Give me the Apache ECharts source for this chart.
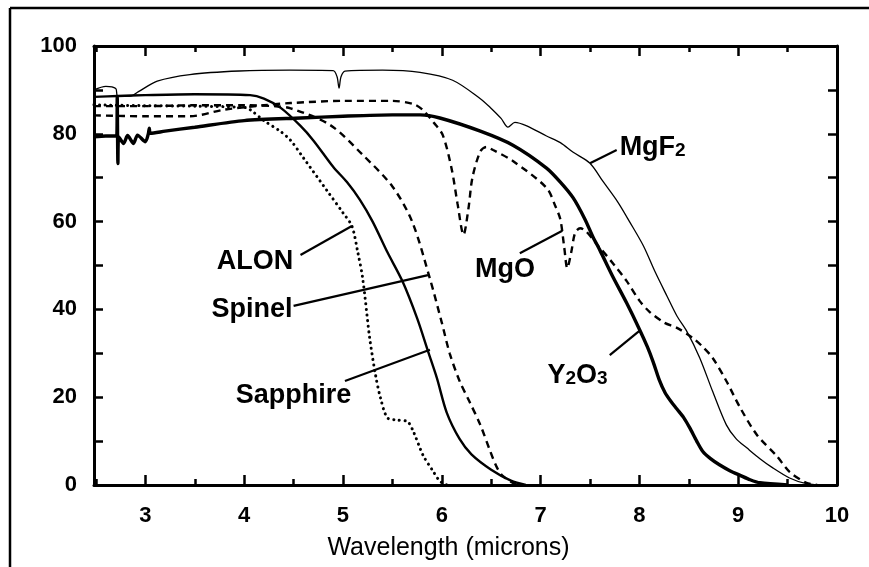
<!DOCTYPE html>
<html><head><meta charset="utf-8">
<script src="https://cdn.jsdelivr.net/npm/echarts@6/dist/echarts.min.js"></script>
<style>html,body{margin:0;padding:0;background:#fff;overflow:hidden}#c{width:869px;height:567px}</style>
</head><body><div id="c"></div>
<script>
// ---- axis ticks / labels ----
const xTicks = [3, 4, 5, 6, 7, 8, 9, 10];
const xHalfTicks = [2.5, 3.5, 4.5, 5.5, 6.5, 7.5, 8.5, 9.5];
const yLabels = [0, 20, 40, 60, 80, 100];
const yTicks = [0, 10, 20, 30, 40, 50, 60, 70, 80, 90, 100];
const xTitle = 'Wavelength (microns)';

// ---- series values [wavelength (microns), transmission (%)] ----
const MgF2 = [[2.48,90],[2.6,90.8],[2.7,90.3],[2.72,88.6],[2.85,88.6],[2.93,89.6],[3.12,92],[3.45,93.5],[3.95,94.3],[4.46,94.5],[4.9,94.4],[4.94,93],[4.96,90.4],[4.98,93],[5.02,94.3],[5.4,94.5],[5.78,94],[6.11,92.2],[6.39,88],[6.49,86],[6.6,83.5],[6.67,81.5],[6.74,82.6],[6.86,81.8],[7.06,79.5],[7.2,78],[7.33,75.8],[7.5,73.3],[7.63,69.2],[7.78,64.5],[7.9,60],[8.04,54.5],[8.16,48.5],[8.28,43],[8.38,38.5],[8.48,35],[8.61,29],[8.74,21.4],[8.88,13.7],[8.98,10.5],[9.09,8.4],[9.22,6],[9.35,3.9],[9.52,1.6],[9.69,0.3],[9.9,0]];
const Y2O3 = [[2.48,79.3],[2.6,79.5],[2.71,79.5],[2.715,88.5],[2.722,73.2],[2.73,79.3],[2.78,77.8],[2.82,79.6],[2.88,77.8],[2.92,79.7],[3.0,78.2],[3.03,80],[3.04,81.3],[3.05,80.1],[3.2,80.6],[3.5,81.5],[4.0,83],[4.57,83.6],[5.0,84],[5.5,84.3],[5.78,84.3],[5.98,83.6],[6.39,80.6],[6.72,77.4],[7.06,72.2],[7.2,69],[7.33,65.4],[7.45,60.5],[7.53,56.5],[7.6,53.5],[7.73,47.5],[7.87,41.5],[8.0,35.5],[8.08,31.5],[8.14,28],[8.2,24],[8.26,21],[8.32,19],[8.38,17.3],[8.45,15.3],[8.51,13],[8.58,10],[8.64,7.7],[8.72,6],[8.81,4.6],[8.92,3.2],[9.02,2.2],[9.12,1.2],[9.22,0.5],[9.5,0]];
const Sapphire = [[2.48,88.4],[2.72,88.6],[3.0,88.8],[3.5,89],[4.06,88.8],[4.2,88],[4.37,85.9],[4.57,81.8],[4.7,78.5],[4.9,72.5],[5.04,69],[5.17,65],[5.3,60],[5.45,53],[5.6,46.5],[5.75,38],[5.86,30.5],[5.95,24.4],[6.05,16.5],[6.18,10.5],[6.3,7],[6.5,3.5],[6.7,1],[6.85,0]];
const Spinel = [[2.48,86.3],[3.0,86.3],[3.5,86.5],[4.0,86.5],[4.3,86.3],[4.47,85.8],[4.87,82],[5.2,75.2],[5.5,68],[5.7,60],[5.88,47],[6.0,37],[6.08,30],[6.18,23.7],[6.28,19],[6.39,13.7],[6.49,7.7],[6.56,3.9],[6.62,2],[6.72,0.5],[6.8,0]];
const ALON = [[2.48,86.6],[3.0,86.4],[3.5,86.3],[4.0,86],[4.06,85.5],[4.2,83],[4.37,80.5],[4.47,78.5],[4.6,74.5],[4.84,67],[5.0,62],[5.09,59],[5.15,53],[5.2,47],[5.27,33.5],[5.33,25],[5.38,19.8],[5.45,15.3],[5.55,14.8],[5.65,14.5],[5.71,12.3],[5.81,6.8],[5.91,3.2],[5.98,0.9],[6.05,0]];
const MgO = [[2.48,84.2],[3.0,84],[3.45,84],[3.8,85.5],[4.2,86.5],[4.47,87],[5.0,87.5],[5.5,87.5],[5.71,86.8],[5.81,85.4],[5.92,82.5],[6.01,79.7],[6.1,72],[6.16,64],[6.22,57],[6.27,63],[6.31,70],[6.39,76],[6.45,77],[6.52,76.3],[6.72,73.8],[7.06,67.7],[7.15,63.5],[7.2,60.5],[7.24,54],[7.27,49.4],[7.31,53],[7.35,57.5],[7.4,58.5],[7.6,54],[7.75,50],[7.87,46.5],[8.0,42],[8.1,39.5],[8.25,37],[8.38,35.8],[8.54,33.5],[8.64,31.5],[8.74,29],[8.88,23.7],[9.02,17.6],[9.19,11.4],[9.39,6.6],[9.52,3],[9.69,0.5],[9.8,0]];

// ---- annotations (data coordinates) ----
const annotations = [
  {name: 'ALON', text: 'ALON', at: [4.11, 51], anchor: 'center', pointer: [[4.57, 52.4], [5.09, 59]]},
  {name: 'Spinel', text: 'Spinel', at: [4.08, 40], anchor: 'center', pointer: [[4.5, 40.8], [5.86, 47.8]]},
  {name: 'Sapphire', text: 'Sapphire', at: [4.5, 20.3], anchor: 'center', pointer: [[5.02, 23.7], [5.88, 30.8]]},
  {name: 'MgO', text: 'MgO', at: [6.64, 49], anchor: 'center', pointer: [[6.79, 52.8], [7.22, 57.9]]},
  {name: 'MgF2', text: '{n|MgF}{s|2}', at: [7.8, 77], anchor: 'left', pointer: [[7.5, 73.3], [7.77, 76.3]]},
  {name: 'Y2O3', text: '{n|Y}{s|2}{n|O}{s|3}', at: [7.07, 25], anchor: 'left', pointer: [[7.7, 29.6], [8.0, 35.1]]}
];

const INK = '#000';
const FONT = '"Liberation Sans", Arial, Helvetica, sans-serif';
const X_MIN = 2.48, X_MAX = 10;

const chart = echarts.init(document.getElementById('c'), null, {renderer: 'canvas'});

const gridRect = {left: 94, right: 32, top: 46, bottom: 82};

function curve(name, data, style, smooth) {
  return {name, type: 'line', data, xAxisIndex: 0, yAxisIndex: 0, showSymbol: false, symbol: 'none',
    smooth: smooth, silent: true, animation: false,
    lineStyle: Object.assign({color: INK, opacity: 1}, style), z: 3};
}

const series = [
  curve('MgF2', MgF2, {width: 1.3}, 0.3),
  curve('MgO', MgO, {width: 2.4, type: [7, 5]}, 0.3),
  curve('Spinel', Spinel, {width: 2.4, type: [7, 5]}, 0.3),
  curve('ALON', ALON, {width: 3, type: [0.1, 5.5], cap: 'round'}, 0.3),
  curve('Sapphire', Sapphire, {width: 2.4}, 0.3),
  curve('Y2O3', Y2O3, {width: 3.4}, 0.25)
];

annotations.forEach(a => {
  series.push({name: a.name + ' pointer', type: 'line', data: a.pointer, xAxisIndex: 0, yAxisIndex: 0,
    symbol: 'none', silent: true, animation: false, lineStyle: {color: INK, width: 2.2}, z: 4});
  series.push({name: a.name + ' label', type: 'scatter', data: [a.at], xAxisIndex: 0, yAxisIndex: 0,
    symbolSize: 0, silent: true, animation: false, z: 5, itemStyle: {opacity: 1},
    label: {show: true, position: a.anchor === 'left' ? 'right' : 'inside', distance: 0, opacity: 1,
      formatter: () => a.text, color: INK, fontFamily: FONT, fontWeight: 'bold', fontSize: 27, textBorderWidth: 0,
      rich: {
        n: {fontFamily: FONT, fontWeight: 'bold', fontSize: 27, color: INK, lineHeight: 26, verticalAlign: 'top'},
        s: {fontFamily: FONT, fontWeight: 'bold', fontSize: 19, color: INK, lineHeight: 8, verticalAlign: 'bottom'}
      }}
  });
});

const option = {
  backgroundColor: '#fff',
  animation: false,
  grid: [Object.assign({}, gridRect), Object.assign({}, gridRect)],
  xAxis: [
    {gridIndex: 0, type: 'value', position: 'bottom', min: X_MIN, max: X_MAX,
      name: xTitle, nameLocation: 'middle', nameGap: 51,
      nameTextStyle: {fontFamily: FONT, fontSize: 25, color: INK, padding: [0, 34, 0, 0]},
      axisLine: {show: true, onZero: false, lineStyle: {color: INK, width: 3}},
      axisTick: {show: true, inside: true, length: 10, customValues: xTicks, lineStyle: {color: INK, width: 2.5}},
      axisLabel: {show: true, customValues: xTicks, margin: 20, fontFamily: FONT, fontWeight: 'bold', fontSize: 22, color: INK},
      splitLine: {show: false}},
    {gridIndex: 0, type: 'value', position: 'top', min: X_MIN, max: X_MAX,
      axisLine: {show: true, onZero: false, lineStyle: {color: INK, width: 3}},
      axisTick: {show: true, inside: true, length: 10, customValues: xTicks, lineStyle: {color: INK, width: 2.5}},
      axisLabel: {show: false}, splitLine: {show: false}},
    {gridIndex: 1, type: 'value', position: 'bottom', min: X_MIN, max: X_MAX,
      axisLine: {show: false},
      axisTick: {show: true, inside: true, length: 6, customValues: xHalfTicks, lineStyle: {color: INK, width: 2.5}},
      axisLabel: {show: false}, splitLine: {show: false}},
    {gridIndex: 1, type: 'value', position: 'top', min: X_MIN, max: X_MAX,
      axisLine: {show: false},
      axisTick: {show: true, inside: true, length: 6, customValues: xHalfTicks, lineStyle: {color: INK, width: 2.5}},
      axisLabel: {show: false}, splitLine: {show: false}}
  ],
  yAxis: [
    {gridIndex: 0, type: 'value', position: 'left', min: 0, max: 100,
      axisLine: {show: true, onZero: false, lineStyle: {color: INK, width: 3}},
      axisTick: {show: true, inside: true, length: 9, customValues: yTicks, lineStyle: {color: INK, width: 2.5}},
      axisLabel: {show: true, customValues: yLabels, margin: 17, fontFamily: FONT, fontWeight: 'bold', fontSize: 22, color: INK},
      splitLine: {show: false}},
    {gridIndex: 0, type: 'value', position: 'right', min: 0, max: 100,
      axisLine: {show: true, onZero: false, lineStyle: {color: INK, width: 3}},
      axisTick: {show: true, inside: true, length: 9, customValues: yTicks, lineStyle: {color: INK, width: 2.5}},
      axisLabel: {show: false}, splitLine: {show: false}},
    {gridIndex: 1, type: 'value', min: 0, max: 100, show: false}
  ],
  graphic: [
    {type: 'line', shape: {x1: 10, y1: 8, x2: 880, y2: 8}, silent: true, style: {stroke: INK, lineWidth: 2.5}, z: -1},
    {type: 'line', shape: {x1: 10, y1: 8, x2: 10, y2: 600}, silent: true, style: {stroke: INK, lineWidth: 2.5}, z: -1}
  ],
  series
};
chart.setOption(option);
</script>
</body></html>
